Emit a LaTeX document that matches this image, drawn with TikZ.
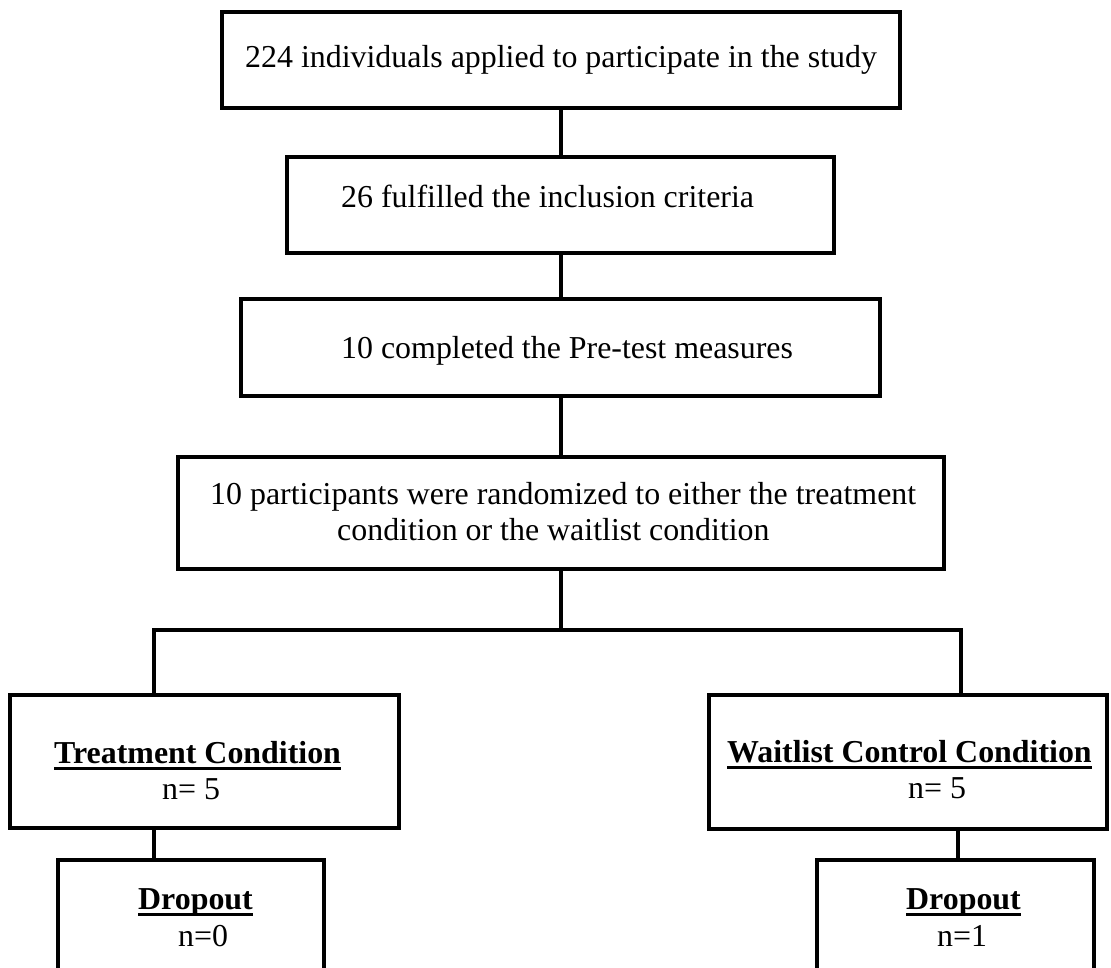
\documentclass[tikz,border=0pt]{standalone}
\usepackage{fontspec}
\setmainfont{Liberation Serif}
\newcommand{\myul}[1]{\setbox0\hbox{#1}\rlap{\raisebox{-7pt}{\rule{\wd0}{3pt}}}\box0}
\begin{document}
\begin{tikzpicture}[x=1pt,y=-1pt,
  box/.style={draw,line width=3.3pt,rectangle,inner sep=0pt},
  txt/.style={anchor=base west,inner sep=0pt,font=\fontsize{31.9}{36.7}\selectfont},
  btxt/.style={txt,font=\fontsize{31.9}{36.7}\selectfont\bfseries},
  conn/.style={line width=4pt},
  barline/.style={line width=4.3pt,line cap=rect}]
\clip (0,0) rectangle (1111,968);
\fill[white] (0,0) rectangle (1111,968);
% boxes
\node[box,minimum width=678pt,minimum height=96pt] (b1) at (561,60) {};
\node[box,minimum width=547pt,minimum height=96pt] (b2) at (560.5,205) {};
\node[box,minimum width=639pt,minimum height=97pt] (b3) at (560.5,347.5) {};
\node[box,minimum width=766pt,minimum height=112pt] (b4) at (561,513) {};
\node[box,minimum width=389pt,minimum height=133pt] (b5) at (204.5,761.5) {};
\node[box,minimum width=398pt,minimum height=134pt] (b6) at (908,762) {};
\node[box,minimum width=266pt,minimum height=140pt] (b7) at (191,930) {};
\node[box,minimum width=277pt,minimum height=140pt] (b8) at (955.5,930) {};
% texts
\node[txt] (t1) at (245,68) {224 individuals applied to participate in the study};
\node[txt] (t2) at (341,208) {26 fulfilled the inclusion criteria};
\node[txt] (t3) at (341,358) {10 completed the Pre-test measures};
\node[txt] (t4a) at (210,504) {10 participants were randomized to either the treatment};
\node[txt] (t4b) at (337,540) {condition or the waitlist condition};
\node[btxt] (t5a) at (54,763) {\myul{Treatment Condition}};
\node[txt] (t5b) at (162,799) {n= 5};
\node[btxt] (t6a) at (727,762) {\myul{Waitlist Control Condition}};
\node[txt] (t6b) at (908,798) {n= 5};
\node[btxt] (t7a) at (138,909) {\myul{Dropout}};
\node[txt] (t7b) at (178,946) {n=0};
\node[btxt] (t8a) at (906,909) {\myul{Dropout}};
\node[txt] (t8b) at (937,946) {n=1};
% connectors
\coordinate (bm) at (561,630);
\coordinate (bl) at (154,630);
\coordinate (br) at (961,630);
\coordinate (rl) at (958,630);
\draw[conn] (b1.south) -- (b1.south |- b2.north);
\draw[conn] (b1.south |- b2.south) -- (b1.south |- b3.north);
\draw[conn] (b1.south |- b3.south) -- (b1.south |- b4.north);
\draw[conn] (b4.south) -- (bm);
\draw[barline] (bl) -- (br);
\draw[conn] (bl) -- (bl |- b5.north);
\draw[conn] (br) -- (br |- b6.north);
\draw[conn] (bl |- b5.south) -- (bl |- b7.north);
\draw[conn] (rl |- b6.south) -- (rl |- b8.north);
\end{tikzpicture}
\end{document}
